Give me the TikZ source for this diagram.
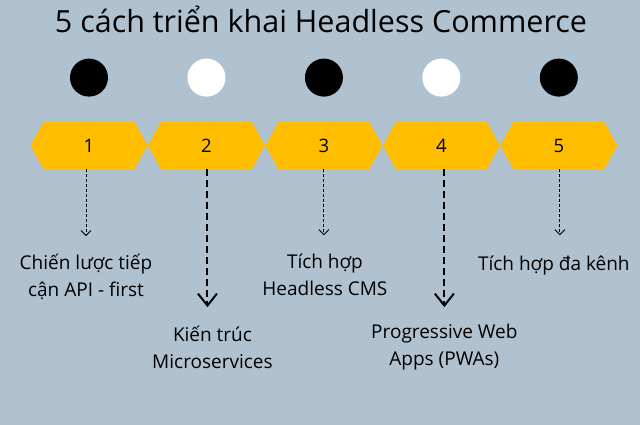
\documentclass[tikz,border=0pt]{standalone}
\usepackage{fontspec}
\setmainfont{Open Sans}
\usepackage{tikz}
\usetikzlibrary{arrows.meta, positioning, shapes.symbols}

\definecolor{bgblue}{RGB}{176,194,208}
\definecolor{hexyellow}{RGB}{255,189,0}

\begin{document}
\begin{tikzpicture}[
    x=1pt, y=-1pt,
    hexbox/.style={signal, signal to=west and east, signal pointer angle=122, fill=hexyellow, minimum width=117pt, minimum height=47pt, inner sep=0pt, font=\fontsize{18.5}{20}\selectfont},
    dotnode/.style={circle, minimum size=38pt, inner sep=0pt},
    thinlink/.style={line width=0.9pt, dash pattern=on 3pt off 2pt, -{Straight Barb[length=5pt, width=10pt, line width=0.9pt]}},
    thicklink/.style={line width=2pt, dash pattern=on 7pt off 4pt, -{Straight Barb[length=12pt, width=19pt, line width=2pt]}},
    steplabel/.style={align=center, inner sep=0pt, anchor=base, font=\fontsize{19}{27}\selectfont}
]
% Background and margins
\fill[bgblue] (0,0) rectangle (640,425);
\useasboundingbox (0,0) rectangle (640,425);

% Title
\node[font=\fontsize{30.5}{32}\selectfont, anchor=base] (title) at (321,33) {5 cách triển khai Headless Commerce};

% Steps - hexagons in a row
\node[hexbox] (h1) at (89,145.5) {1};
\node[hexbox, right=0pt of h1] (h2) {2};
\node[hexbox, right=0pt of h2] (h3) {3};
\node[hexbox, right=0pt of h3] (h4) {4};
\node[hexbox, right=0pt of h4] (h5) {5};

% Dots above
\node[dotnode, fill=black, above=25pt of h1] (d1) {};
\node[dotnode, fill=white, above=25pt of h2] (d2) {};
\node[dotnode, fill=black, above=25pt of h3] (d3) {};
\node[dotnode, fill=white, above=25pt of h4] (d4) {};
\node[dotnode, fill=black, above=25pt of h5] (d5) {};

% Arrow ends
\coordinate[below=67pt of h1.south, xshift=-3pt] (e1);
\coordinate[below=138pt of h2.south, xshift=1pt] (e2);
\coordinate[below=66pt of h3.south] (e3);
\coordinate[below=138pt of h4.south, xshift=3pt] (e4);
\coordinate[below=66pt of h5.south, xshift=1pt] (e5);

% Connections
\draw[thinlink] ([xshift=-3pt]h1.south) -- (e1);
\draw[thicklink] ([xshift=1pt]h2.south) -- (e2);
\draw[thinlink] (h3.south) -- (e3);
\draw[thicklink] ([xshift=3pt]h4.south) -- (e4);
\draw[thinlink] ([xshift=1pt]h5.south) -- (e5);

% Labels (base = last line)
\node[steplabel, below=60pt of e1, anchor=base] (l1) {Chiến lược tiếp\\cận API - first};
\node[steplabel, below=61pt of e2, xshift=5pt, anchor=base] (l2) {Kiến trúc\\Microservices};
\node[steplabel, below=60pt of e3, xshift=1pt, anchor=base] (l3) {Tích hợp\\Headless CMS};
\node[steplabel, below=58pt of e4, anchor=base] (l4) {Progressive Web\\Apps (PWAs)};
\node[steplabel, below=35pt of e5, xshift=-6pt, anchor=base] (l5) {Tích hợp đa kênh};
\end{tikzpicture}
\end{document}
